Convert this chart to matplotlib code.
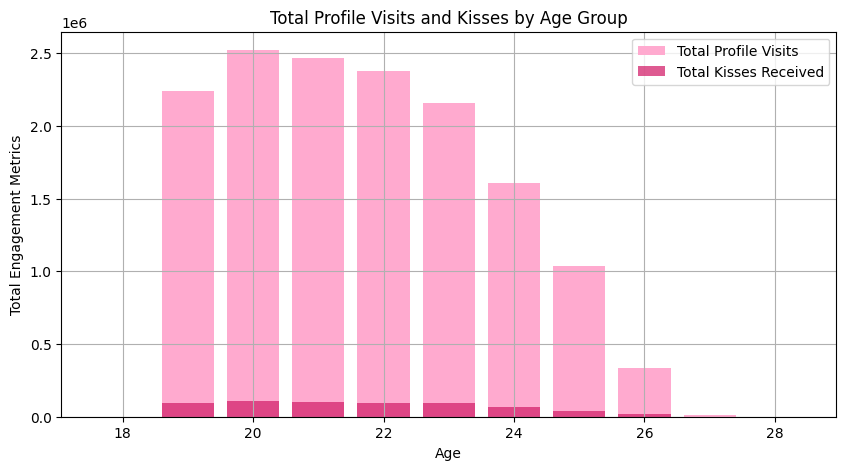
import numpy as np
import matplotlib.pyplot as plt

# Age groups and totals
ages = [18, 19, 20, 21, 22, 23, 24, 25, 26, 27, 28]
profile_visits = [0, 2240000, 2522000, 2467000, 2378000, 2157000, 1607000, 1039000, 336000, 12000, 0]
kisses_received = [0, 94000, 108000, 101000, 94000, 94000, 67000, 40000, 20000, 800, 0]

plt.figure(figsize=(10, 5))
plt.bar(ages, profile_visits, color='#ffaacf', label='Total Profile Visits')
plt.bar(ages, kisses_received, color='#d3236c', alpha=0.75, label='Total Kisses Received')
plt.xlabel('Age')
plt.ylabel('Total Engagement Metrics')
plt.title('Total Profile Visits and Kisses by Age Group')
plt.legend()
plt.grid(True)

plt.savefig('out.png', bbox_inches='tight')
